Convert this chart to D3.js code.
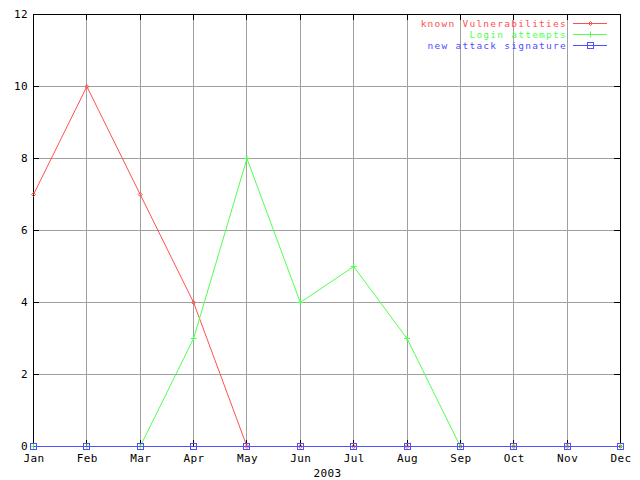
<!DOCTYPE html>
<html><head><meta charset="utf-8">
<script src="https://cdn.jsdelivr.net/npm/d3@7"></script>
<style>body{margin:0;background:#fff}svg{display:block}text{font-family:"DejaVu Sans Mono",monospace;font-size:11px;fill:#000}</style>
</head><body>
<script>
const months = ["Jan","Feb","Mar","Apr","May","Jun","Jul","Aug","Sep","Oct","Nov","Dec"];
const yTicks = [0,2,4,6,8,10,12];
const knownVulnerabilities = [7,10,7,4,0,0,0,0,0,0,0,0];
const loginAttempts = [0,0,0,3,8,4,5,3,0,0,0,0];
const newAttackSignature = [0,0,0,0,0,0,0,0,0,0,0,0];
const seriesNames = ["known Vulnerabilities","Login attempts","new attack signature"];
const xTitle = "2003";

const W=640,H=480, L=33,R=620,T=14,B=446;
const svg=d3.select("body").append("svg").attr("width",W).attr("height",H);
const x=d3.scalePoint().domain(months).range([L,R]);
const y=d3.scaleLinear().domain([0,12]).range([B,T]);

const g=svg.append("g").attr("shape-rendering","crispEdges");
g.selectAll(".gx").data(months).join("line").attr("x1",d=>x(d)+0.5).attr("x2",d=>x(d)+0.5).attr("y1",T).attr("y2",B).attr("stroke","#a0a0a0");
g.selectAll(".gy").data(yTicks).join("line").attr("x1",L).attr("x2",R).attr("y1",d=>y(d)+0.5).attr("y2",d=>y(d)+0.5).attr("stroke","#a0a0a0");
g.selectAll(".tl").data(yTicks).join("line").attr("x1",L).attr("x2",L+6).attr("y1",d=>y(d)+0.5).attr("y2",d=>y(d)+0.5).attr("stroke","#000");
g.selectAll(".tr").data(yTicks).join("line").attr("x1",R-6).attr("x2",R).attr("y1",d=>y(d)+0.5).attr("y2",d=>y(d)+0.5).attr("stroke","#000");
g.selectAll(".tb").data(months).join("line").attr("x1",d=>x(d)+0.5).attr("x2",d=>x(d)+0.5).attr("y1",B-6).attr("y2",B).attr("stroke","#000");
g.selectAll(".tt").data(months).join("line").attr("x1",d=>x(d)+0.5).attr("x2",d=>x(d)+0.5).attr("y1",T).attr("y2",T+6).attr("stroke","#000");
g.append("rect").attr("x",L+0.5).attr("y",T+0.5).attr("width",R-L).attr("height",B-T).attr("fill","none").attr("stroke","#000");

svg.selectAll(".yl").data(yTicks).join("text").attr("x",28).attr("y",d=>y(d)+4).attr("text-anchor","end").style("letter-spacing","0.4px").text(d=>d);
svg.selectAll(".xl").data(months).join("text").attr("x",d=>x(d)+1).attr("y",462).attr("text-anchor","middle").style("letter-spacing","0.4px").text(d=>d);
svg.append("text").attr("x",(L+R)/2+1).attr("y",477).attr("text-anchor","middle").style("letter-spacing","0.4px").text(xTitle);

const colors=["#ff5050","#50ff50","#5050ff"];
const data=[knownVulnerabilities,loginAttempts,newAttackSignature];
const line=d3.line().x((d,i)=>x(months[i])+0.5).y(d=>y(d)+0.5);

function marker(sel,k,cx,cy){
  const c=colors[k];
  if(k===0){
    sel.append("path").attr("d",`M${cx-2},${cy}L${cx},${cy-2}L${cx+2},${cy}L${cx},${cy+2}Z`).attr("fill","none").attr("stroke",c);
  } else if(k===1){
    sel.append("path").attr("d",`M${cx-3},${cy}H${cx+3}M${cx},${cy-3}V${cy+3}`).attr("fill","none").attr("stroke",c);
  } else {
    sel.append("rect").attr("x",cx-3).attr("y",cy-3).attr("width",6).attr("height",6).attr("fill","none").attr("stroke",c).attr("shape-rendering","crispEdges");
  }
}

data.forEach((vals,k)=>{
  const sg=svg.append("g");
  sg.append("path").datum(vals).attr("d",line).attr("fill","none").attr("stroke",colors[k]).attr("stroke-width",1);
  vals.forEach((v,i)=>marker(sg,k,x(months[i])+0.5,y(v)+0.5));
});

seriesNames.forEach((n,k)=>{
  const yy=23+k*11;
  svg.append("text").attr("x",567).attr("y",yy+3.5).attr("text-anchor","end")
    .style("font-size","9.5px").style("letter-spacing","1.25px").style("fill",colors[k]).text(n);
  svg.append("path").attr("d",`M573,${yy+0.5}H607`).attr("fill","none").attr("stroke",colors[k]).attr("stroke-width",1);
  marker(svg,k,590.5,yy+0.5);
});
</script>
</body></html>
